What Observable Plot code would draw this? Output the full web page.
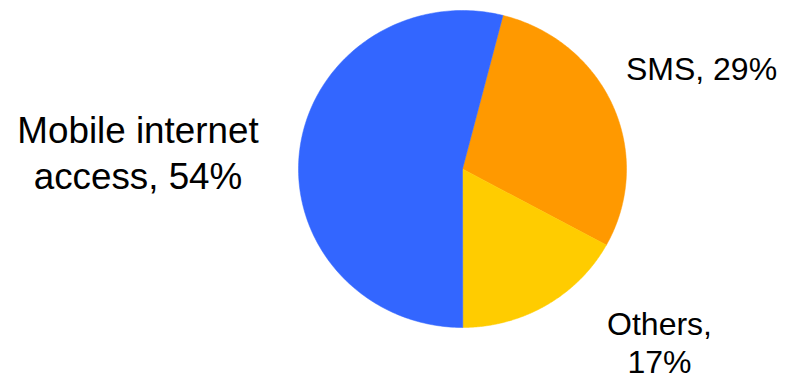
<!DOCTYPE html>
<html>
<head>
<meta charset="utf-8">
<script src="https://cdn.jsdelivr.net/npm/d3@7"></script>
<script src="https://cdn.jsdelivr.net/npm/@observablehq/plot@0.6"></script>
<style>
  html, body { margin: 0; padding: 0; background: #fff; }
</style>
</head>
<body>
<div id="chart"></div>
<script>
const categories = ["SMS", "Others", "Mobile internet access"];
const values = [29, 17, 54];
const labels = ["SMS, 29%", "Others,\n17%", "Mobile internet\naccess, 54%"];
const colors = ["#FF9900", "#FFCC00", "#3366FF"];

// layout (pixels)
const W = 794, H = 379, CX = 462, CY = 168.5, RX = 164, RY = 158.5;
const startDeg = 14.3;
const toX = px => (px - CX) / RX;
const toY = py => (CY - py) / RY;

const arcs = d3.pie().sort(null)
  .startAngle(startDeg * Math.PI / 180)
  .endAngle(startDeg * Math.PI / 180 + 2 * Math.PI)(values);

const pts = [];
arcs.forEach((a, i) => {
  const cat = categories[i];
  pts.push({cat, x: 0, y: 0});
  const n = 200;
  for (let k = 0; k <= n; k++) {
    const t = a.startAngle + (a.endAngle - a.startAngle) * k / n;
    pts.push({cat, x: Math.sin(t), y: Math.cos(t)});
  }
  pts.push({cat, x: 0, y: 0});
});

const labelPos = [
  {px: 701, py: 67.8, size: 32, lh: 1.19},
  {px: 659, py: 341.5, size: 32, lh: 1.19},
  {px: 137.5, py: 150.5, size: 36.8, lh: 1.25}
];

const textMarks = labels.map((t, i) => Plot.text([t], {
  x: () => toX(labelPos[i].px),
  y: () => toY(labelPos[i].py),
  text: d => d,
  fontSize: labelPos[i].size,
  lineHeight: labelPos[i].lh,
  textAnchor: "middle",
  lineAnchor: "middle",
  fill: "#000"
}));

const chart = Plot.plot({
  width: W,
  height: H,
  margin: 0,
  style: {fontFamily: "Arial, 'Liberation Sans', sans-serif", background: "#fff"},
  x: {domain: [toX(0), toX(W)], range: [0, W], axis: null},
  y: {domain: [toY(H), toY(0)], range: [H, 0], axis: null},
  color: {domain: categories, range: colors},
  marks: [
    Plot.line(pts, {x: "x", y: "y", z: "cat", fill: "cat", stroke: "cat", strokeWidth: 0.5, curve: "linear"}),
    ...textMarks
  ]
});
document.getElementById("chart").appendChild(chart);
</script>
</body>
</html>
